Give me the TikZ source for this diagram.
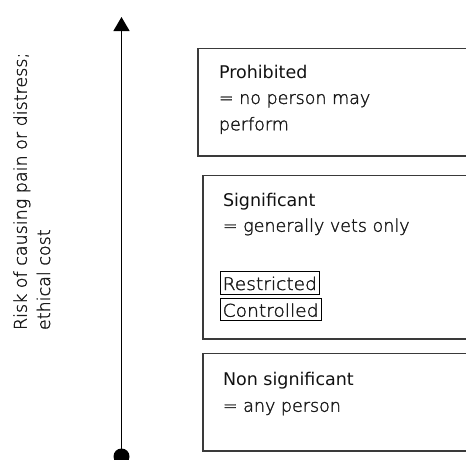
\documentclass[tikz,border=0pt]{standalone}
\usepackage{fontspec}
\setmainfont{DejaVu Sans}
\newfontfamily\thinface{DejaVu Sans ExtraLight}[FakeBold=1.6]
\usetikzlibrary{arrows.meta}
\definecolor{framegray}{HTML}{3A3A3A}
\definecolor{inkgray}{HTML}{111111}
\definecolor{bodygray}{HTML}{1A1A1A}
\begin{document}
\begin{tikzpicture}[x=1pt,y=-1pt,
  every node/.style={inner sep=0pt,outer sep=0pt},
  txt/.style={anchor=base west,text=bodygray,font=\thinface\fontsize{17.5}{21}\selectfont},
  head/.style={anchor=base west,text=inkgray,font=\fontsize{17.5}{21}\selectfont},
  band/.style={draw=framegray,line width=1.4pt,anchor=north west,minimum width=290pt},
  tag/.style={txt,draw=black,line width=0.9pt,inner xsep=2.5pt,inner ysep=0pt,
    xscale=1.065,text height=18.3pt,text depth=4pt},
  side/.style={txt,rotate=90},
]
\useasboundingbox (0,0) rectangle (466,459);
\clip (0,0) rectangle (466,459);

% risk axis
\node[circle,fill=black,minimum size=16pt] (low) at (121.5,456.5) {};
\coordinate (high) at (121.5,17);
\draw[line width=1.4pt,-{Triangle[width=16pt,length=14pt]}] (low.center) -- (high);

% axis caption
\node[side] (cap1) at (26.7,330) {Risk of causing pain or distress;};
\node[side] (cap2) at (50,330) {ethical cost};

% prohibited band
\node[band,minimum height=107.7pt] (prohibited) at (198,48.3) {};
\node[head] (proT) at ([shift={(21,30)}]prohibited.north west) {Prohibited};
\node[txt] (proA) at ([shift={(0,25.6)}]proT.base west) {= no person may};
\node[txt] (proB) at ([shift={(0,26.4)}]proA.base west) {perform};

% significant band
\node[band,minimum height=163.5pt] (significant) at (203,175.5) {};
\node[head] (sigT) at ([shift={(20,30.5)}]significant.north west) {Significant};
\node[txt] (sigA) at ([shift={(0,25.7)}]sigT.base west) {= generally vets only};
\node[tag] (restricted) at (220,290) {Restricted};
\node[tag] (controlled) at (220,316.7) {Controlled};

% non significant band
\node[band,minimum height=97.3pt] (nonsig) at (203,353.7) {};
\node[head] (nonT) at ([shift={(20,31.3)}]nonsig.north west) {Non significant};
\node[txt] (nonA) at ([shift={(0,26.7)}]nonT.base west) {= any person};
\end{tikzpicture}
\end{document}
